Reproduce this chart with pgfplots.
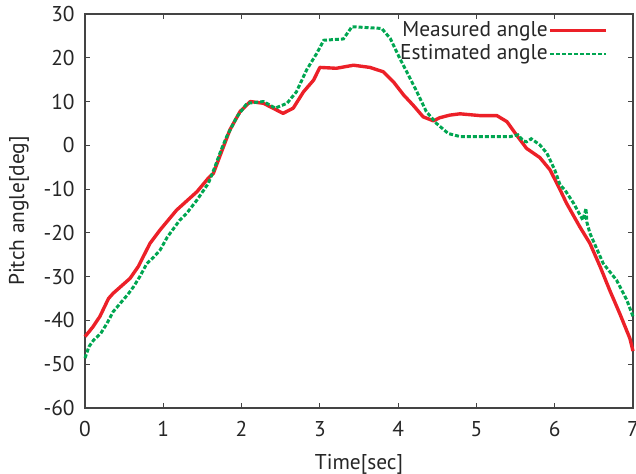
\documentclass[border=0pt]{standalone}
\usepackage{pgfplots}
\pgfplotsset{compat=1.18}
\usepackage{fontspec}
\setmainfont{PT Sans}
\definecolor{mred}{RGB}{236,32,40}
\definecolor{mgreen}{RGB}{0,166,81}
\definecolor{frame}{RGB}{68,68,68}
\newcommand{\chartfont}{\fontsize{21.5}{25}\selectfont}

\begin{document}
\begin{tikzpicture}
\chartfont
\begin{axis}[
    scale only axis,
    width=548bp, height=394bp,
    xmin=0, xmax=7, ymin=-60, ymax=30,
    xtick={0,1,...,7},
    ytick={-60,-50,...,30},
    tick align=inside,
    major tick length=5bp,
    axis line style={frame, line width=1.2pt},
    tick style={frame, line width=1pt},
    ticklabel style={font=\chartfont, text=black!85},
    xticklabel style={yshift=-6bp},
    yticklabel style={xshift=-3bp},
    /pgf/number format/assume math mode=true,
    xlabel={Time[sec]},
    ylabel={Pitch angle[deg]},
    label style={font=\chartfont, text=black!85},
    xlabel style={yshift=-3bp},
    ylabel style={yshift=0bp},
    legend plot pos=right,
    legend cell align=right,
    legend style={draw=none, fill=none, at={(0.955,0.985)}, anchor=north east,
        font=\chartfont, text=black!85,
        inner sep=0pt, row sep=2bp,
        nodes={inner xsep=1bp, inner ysep=1.5bp}},
    legend image code/.code={\draw[#1] (0bp,0bp) -- (56bp,0bp);},
    clip=false,
]
\coordinate (bl) at (rel axis cs:0,0);
\coordinate (tr) at (rel axis cs:1,1);
\addplot[mred, line width=3.4pt, line join=round] coordinates {
(0,-43.7) (0.1,-41.5) (0.19,-39.1) (0.3,-35) (0.36,-33.8) (0.575,-30.4)
(0.68,-27.7) (0.83,-22.4) (0.96,-19.3) (1.17,-14.8) (1.43,-10.6) (1.575,-7.5)
(1.64,-6.4) (1.72,-2.6) (1.85,3.5) (1.98,7.7) (2.11,10.0) (2.28,9.6)
(2.40,8.5) (2.53,7.3) (2.66,8.5) (2.79,12.2) (2.92,14.9) (3.0,17.8)
(3.21,17.6) (3.43,18.3) (3.64,17.8) (3.81,16.8) (3.94,14.5) (4.07,11.5)
(4.19,9.2) (4.32,6.5) (4.45,5.6) (4.53,6.3) (4.66,6.9) (4.79,7.2)
(5.04,6.8) (5.26,6.8) (5.39,5.4) (5.51,2.4) (5.64,-0.7) (5.81,-2.8)
(5.94,-5.6) (6.07,-10.2) (6.15,-13.2) (6.32,-18.6) (6.45,-22.4) (6.58,-27.7)
(6.70,-33.0) (6.83,-38.4) (6.96,-44.1) (7.0,-47.0)
};
\addlegendentry{Measured angle}
\addplot[mgreen, line width=3pt, dash pattern=on 4bp off 2bp] coordinates {
(0,-48.6) (0.05,-46) (0.11,-44.5) (0.2,-43) (0.28,-40.7) (0.36,-38)
(0.45,-36.1) (0.55,-34) (0.62,-32.3) (0.7,-30) (0.79,-27.0) (0.88,-25.5)
(0.96,-23.9) (1.05,-21) (1.21,-17.1) (1.3,-15.5) (1.43,-12.5) (1.575,-8.7)
(1.66,-4.9) (1.74,-1) (1.81,2.0) (1.94,6.5) (2.07,9.6) (2.28,10.0)
(2.43,8.5) (2.58,9.6) (2.70,12.2) (2.83,17.2) (2.96,21.0) (3.05,24.0)
(3.13,24.1) (3.30,24.3) (3.41,27.1) (3.79,26.7) (3.90,24.4) (4.02,19.9)
(4.13,16.1) (4.24,12.2) (4.36,7.7) (4.49,5.0) (4.64,2.7) (4.79,2.0)
(5.43,2.0) (5.53,2.4) (5.6,1.0) (5.64,0.8) (5.70,1.5) (5.81,0.1)
(5.90,-1.8) (6.00,-5.6) (6.07,-9.1) (6.13,-10.2) (6.24,-13.2) (6.36,-17.1)
(6.40,-14.4) (6.41,-17.5) (6.45,-20.1) (6.62,-27.0) (6.79,-30.8) (6.92,-35.3)
(7.0,-39.1)
};
\addlegendentry{Estimated angle}
\end{axis}
\pgfresetboundingbox
\path[use as bounding box] ([xshift=-85bp,yshift=-66bp]bl) rectangle ([xshift=3bp,yshift=14bp]tr);
\end{tikzpicture}
\end{document}
